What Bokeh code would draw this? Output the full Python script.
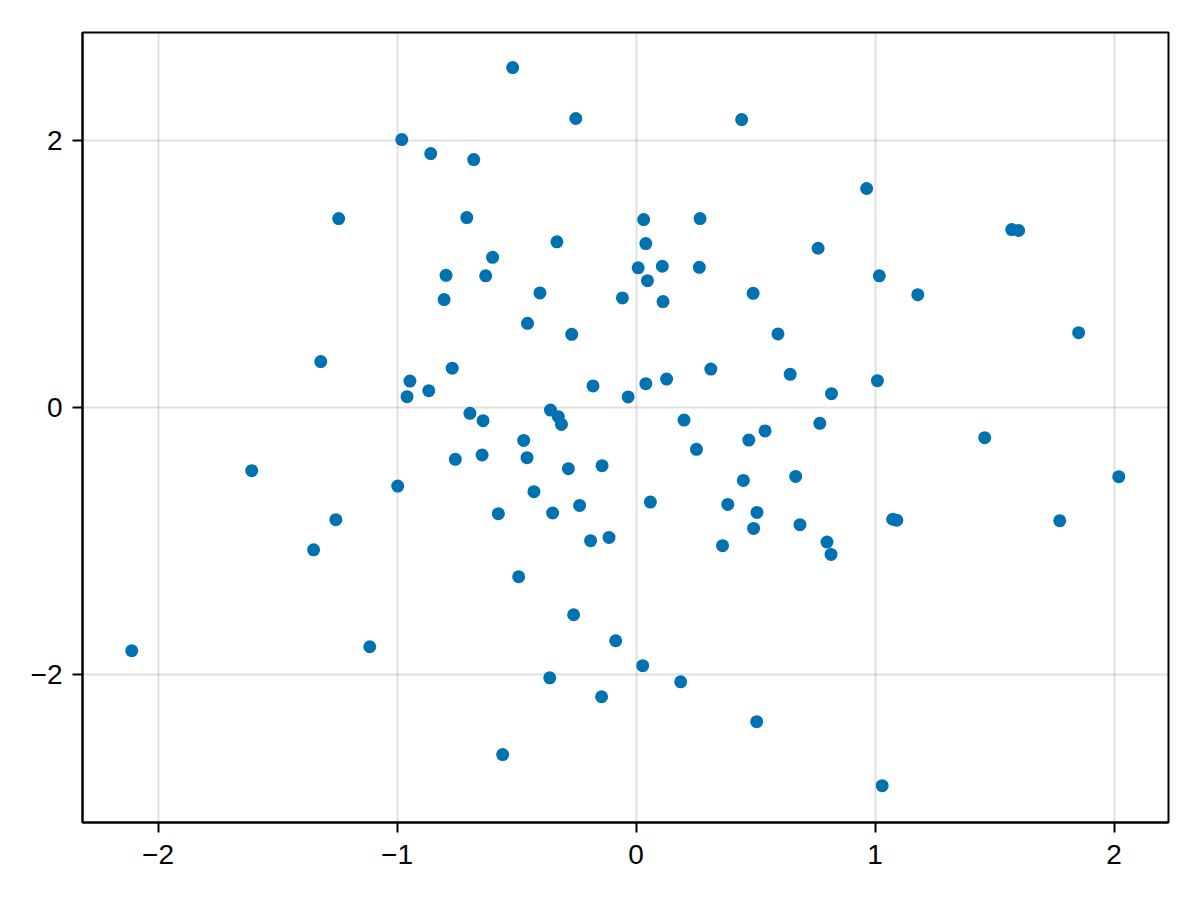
from bokeh.plotting import figure
from bokeh.models import FixedTicker, Range1d
from bokeh.embed import file_html
from bokeh.resources import INLINE

xs = [-0.516, -0.252, 0.442, -0.980, -0.859, -0.679, 0.965, -1.244, -0.708, 0.032,
      0.268, 1.572, 1.601, -0.331, 0.762, 0.041, -0.600, -0.629, -0.795, 0.009,
      0.110, 0.265, 1.018, 0.048, -0.402, -0.057, 0.490, 1.179, 0.113, -0.803,
      -0.454, -0.269, 0.594, 1.852, -1.319, -0.769, 0.313, 0.645, 0.128, 0.041,
      -0.180, -0.946, -0.867, -0.958, -0.033, 1.010, 0.818, -0.358, -0.695, -0.325,
      -0.640, -0.312, 0.201, 0.769, 0.540, 1.459, -0.470, 0.472, 0.253, -0.756,
      -0.644, -0.456, -1.608, -0.283, -0.142, 0.668, 0.449, 2.020, -0.997, -0.427,
      0.060, -0.236, 0.384, -0.576, -0.349, 0.506, -1.256, 1.074, 1.091, 1.773,
      0.686, 0.492, -0.113, -0.190, 0.799, 0.362, 0.816, -1.349, -0.491, -0.261,
      -0.085, -1.114, -2.110, 0.028, -0.361, 0.187, -0.144, 0.505, -0.558, 1.030]
ys = [2.548, 2.166, 2.158, 2.008, 1.903, 1.858, 1.641, 1.416, 1.423, 1.408,
      1.416, 1.333, 1.326, 1.241, 1.193, 1.228, 1.125, 0.986, 0.990, 1.046,
      1.058, 1.050, 0.986, 0.950, 0.858, 0.821, 0.855, 0.845, 0.793, 0.808,
      0.630, 0.548, 0.551, 0.560, 0.343, 0.294, 0.287, 0.248, 0.212, 0.178,
      0.161, 0.197, 0.125, 0.080, 0.078, 0.200, 0.103, -0.020, -0.045, -0.070,
      -0.100, -0.128, -0.095, -0.120, -0.177, -0.227, -0.248, -0.245, -0.315, -0.390,
      -0.357, -0.377, -0.475, -0.460, -0.437, -0.518, -0.548, -0.520, -0.590, -0.632,
      -0.710, -0.735, -0.728, -0.797, -0.792, -0.788, -0.842, -0.839, -0.846, -0.850,
      -0.880, -0.908, -0.975, -1.000, -1.010, -1.037, -1.103, -1.068, -1.270, -1.555,
      -1.750, -1.795, -1.825, -1.937, -2.028, -2.058, -2.170, -2.357, -2.604, -2.837]

x_ticks = [-2, -1, 0, 1, 2]
y_ticks = [-2, 0, 2]

def label(v):
    return ("\u2212" + str(abs(v))) if v < 0 else str(v)

p = figure(width=1184, height=884, output_backend="svg", toolbar_location=None,
           x_range=Range1d(-2.316, 2.228), y_range=Range1d(-3.113, 2.811),
           min_border_left=82, min_border_right=16, min_border_top=32, min_border_bottom=62)
p.background_fill_color = "white"
p.border_fill_color = "white"
p.outline_line_color = "black"
p.outline_line_width = 2

p.scatter(xs, ys, size=13, fill_color="#0072B2", line_color=None)

p.xaxis.ticker = FixedTicker(ticks=x_ticks)
p.yaxis.ticker = FixedTicker(ticks=y_ticks)
p.xaxis.major_label_overrides = {t: label(t) for t in x_ticks}
p.yaxis.major_label_overrides = {t: label(t) for t in y_ticks}

for ax in (p.xaxis[0], p.yaxis[0]):
    ax.axis_line_color = "black"
    ax.axis_line_width = 2
    ax.major_tick_in = 0
    ax.major_tick_out = 10
    ax.major_tick_line_width = 2
    ax.major_tick_line_color = "black"
    ax.minor_tick_line_color = None
    ax.major_label_text_font = "Liberation Sans"
    ax.major_label_text_font_size = "28px"
    ax.major_label_text_color = "black"
p.xaxis.major_label_standoff = 12
p.yaxis.major_label_standoff = 10

for g in (p.xgrid[0], p.ygrid[0]):
    g.grid_line_color = "black"
    g.grid_line_alpha = 0.12
    g.grid_line_width = 2
p.xgrid.ticker = FixedTicker(ticks=x_ticks)
p.ygrid.ticker = FixedTicker(ticks=y_ticks)

open("out.html", "w").write(file_html(p, INLINE))
